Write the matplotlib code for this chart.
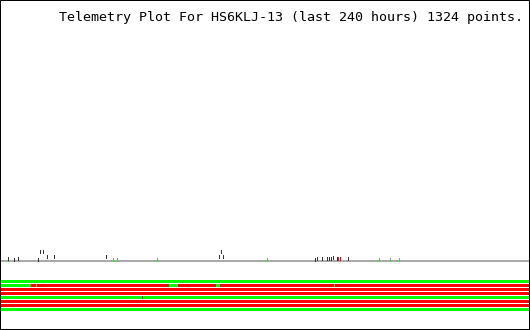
"""Telemetry plot: analog points on top, digital channel bands below."""

import matplotlib

matplotlib.use("Agg")
import matplotlib.pyplot as plt
from matplotlib.patches import Rectangle

W, H = 530, 330
HOURS = 240

TITLE = "Telemetry Plot For HS6KLJ-13 (last 240 hours) 1324 points."

# analog points (hours, value above baseline)
dark_hours = [3.4, 6.1, 7.5, 17.0, 17.9, 19.3, 20.7, 24.3, 47.9, 99.3, 100.2, 100.7,
              142.9, 143.8, 145.7, 148.4, 149.3, 150.2, 151.1, 152.5, 157.5]
dark_vals = [2.5, 1.5, 2.5, 1.5, 9.5, 9.5, 4.5, 4.5, 4.5, 4.5, 9.5, 4.5,
             2.0, 2.5, 2.5, 2.5, 2.5, 2.5, 4.0, 2.5, 2.5]
red_hours = [153.4, 153.9]
red_vals = [3.0, 2.5]
gray_hours = [3.4, 50.7, 52.5, 70.7, 120.7, 171.6, 176.6, 181.1]
gray_vals = [2.0, 2.0, 2.0, 2.0, 2.0, 2.0, 2.0, 2.0]

# digital channels: state change times (hours) and state after each change
ch_starts = [
    [0],
    [0, 13.6, 15.9, 16.4, 76.4, 80.5, 97.7, 99.5, 151.4, 151.8],
    [0],
    [0],
    [0, 64.1, 64.5],
    [0],
    [0],
    [0],
]
ch_states = [
    [1],
    [1, 0, 1, 0, 1, 0, 1, 0, 1, 0],
    [0],
    [0],
    [1, 0, 1],
    [0],
    [0],
    [1],
]

ON = "#00ff00"
OFF = "#ff0000"
PX = 0.72  # one pixel in points at 100 dpi

fig = plt.figure(figsize=(W / 100, H / 100), dpi=100)
fig.patch.set_facecolor("white")

# analog area, baseline at pixel row 261
ax = fig.add_axes([1 / W, (H - 262) / H, 528 / W, 232 / H])
ax.set_xlim(0, HOURS)
ax.set_ylim(-1, 231)
ax.axis("off")
ax.axhline(0, color="#aaaaaa", linewidth=2 * PX)
ax.vlines(gray_hours, [v - 1 for v in gray_vals], [v + 1 for v in gray_vals],
          colors="#999999", linewidth=PX, antialiased=False)
ax.vlines(gray_hours, 0, 1, colors=ON, linewidth=PX, antialiased=False)
ax.vlines(dark_hours, [v - 1.5 for v in dark_vals], [v + 1.5 for v in dark_vals],
          colors="#333333", linewidth=PX, antialiased=False)
ax.vlines(red_hours, [v - 1.5 for v in red_vals], [v + 1.5 for v in red_vals],
          colors=OFF, linewidth=PX, antialiased=False)

# digital bands
bx = fig.add_axes([1 / W, (H - 312) / H, 528 / W, 32 / H])
bx.set_xlim(0, HOURS)
bx.set_ylim(8, 0)
bx.axis("off")
for i, (starts, states) in enumerate(zip(ch_starts, ch_states)):
    ends = starts[1:] + [HOURS]
    for s, e, st in zip(starts, ends, states):
        bx.broken_barh([(s, e - s)], (i, 0.75), facecolors=ON if st else OFF,
                       linewidth=0, antialiased=False)

fig.text(523 / W, (H - 21.5) / H, TITLE, ha="right", va="baseline",
         family="DejaVu Sans Mono", fontsize=9.6, color="black")

fig.patches.append(Rectangle((0.5 / W, 0.5 / H), (W - 1) / W, (H - 1) / H,
                             transform=fig.transFigure, fill=False, snap=False,
                             edgecolor="black", linewidth=PX))

fig.savefig("out.png", dpi=100)
